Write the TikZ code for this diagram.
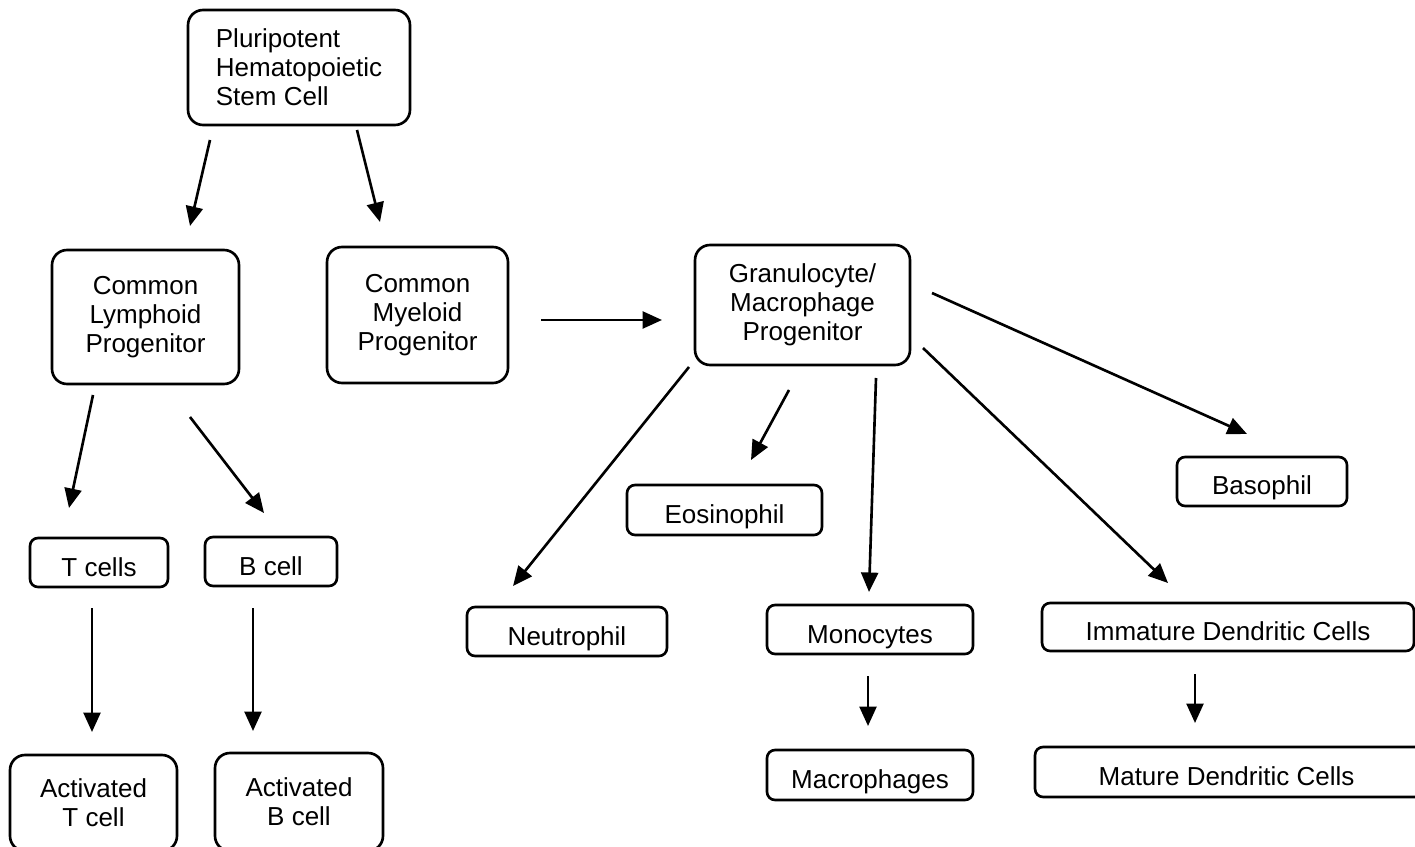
\documentclass[tikz,border=0pt]{standalone}
\usepackage{fontspec}
\setmainfont{Liberation Sans}
\usetikzlibrary{arrows.meta}
\tikzset{
  cell/.style={draw, line width=1.5pt, rounded corners=0.16cm, inner sep=0pt, align=center,
    font=\fontsize{14.8}{16.6}\selectfont},
  onecell/.style={cell, text height=0.58cm, text depth=0.04cm},
  bigcell/.style={cell, rounded corners=0.3cm},
  arr/.style={line width=1.5pt, -{Triangle[length=0.39cm, width=0.34cm]}}
}
\begin{document}
\begin{tikzpicture}[x=0.02cm, y=-0.02cm]
\useasboundingbox (0,0) rectangle (1415,847);
\clip (0,0) rectangle (1415,847);
\fill[white] (0,0) rectangle (1415,847);
% boxes
\node[bigcell, align=left, minimum width=4.44cm, minimum height=2.3cm] (phsc) at (299,67.5) {Pluripotent\\Hematopoietic\\Stem Cell};
\node[bigcell, minimum width=3.74cm, minimum height=2.68cm] (clp) at (145.5,317) {Common\\Lymphoid\\Progenitor};
\node[bigcell, minimum width=3.62cm, minimum height=2.72cm] (cmp) at (417.5,315) {Common\\Myeloid\\Progenitor};
\node[bigcell, minimum width=4.3cm, minimum height=2.4cm] (gmp) at (802.5,305) {Granulocyte/\\Macrophage\\Progenitor};
\node[onecell, minimum width=2.76cm, minimum height=0.98cm] (tc) at (99,562.5) {T cells};
\node[onecell, minimum width=2.64cm, minimum height=0.98cm] (bc) at (271,561.5) {B cell};
\node[bigcell, minimum width=3.34cm, minimum height=1.92cm] (at) at (93.5,803) {Activated\\T cell};
\node[bigcell, minimum width=3.36cm, minimum height=1.96cm] (ab) at (299,802) {Activated\\B cell};
\node[onecell, minimum width=3.9cm, minimum height=1.0cm] (eos) at (724.5,510) {Eosinophil};
\node[onecell, minimum width=4.0cm, minimum height=0.98cm] (neu) at (567,631.5) {Neutrophil};
\node[onecell, minimum width=4.12cm, minimum height=0.98cm] (mono) at (870,629.5) {Monocytes};
\node[onecell, minimum width=4.12cm, minimum height=1.0cm] (mac) at (870,775) {Macrophages};
\node[onecell, minimum width=3.4cm, minimum height=0.98cm] (bas) at (1262,481.5) {Basophil};
\node[onecell, minimum width=7.44cm, minimum height=0.96cm] (idc) at (1228,627) {Immature Dendritic Cells};
\node[onecell, minimum width=8.1cm, minimum height=1.0cm] (mdc) at (1237.5,772) {Mature Dendritic Cells\hspace{0.44cm}};
% connector ends
\coordinate (phsc-l) at (210,140);  \coordinate (clp-in) at (190,226);
\coordinate (phsc-r) at (357,130);  \coordinate (cmp-in) at (380,222);
\coordinate (cmp-out) at (541,320); \coordinate (gmp-in) at (662,320);
\coordinate (clp-l) at (93,395);    \coordinate (tc-in) at (69,508);
\coordinate (clp-r) at (190,417);   \coordinate (bc-in) at (264,513);
\coordinate (tc-out) at (92,608);   \coordinate (at-in) at (92,732);
\coordinate (bc-out) at (253,608);  \coordinate (ab-in) at (253,731);
\coordinate (gmp-neu) at (689,367); \coordinate (neu-in) at (513,586);
\coordinate (gmp-eos) at (789,390); \coordinate (eos-in) at (751,460);
\coordinate (gmp-mono) at (876,378);\coordinate (mono-in) at (869,592);
\coordinate (gmp-idc) at (923,348); \coordinate (idc-in) at (1168,583);
\coordinate (gmp-bas) at (932,293); \coordinate (bas-in) at (1247,434);
\coordinate (mono-out) at (868,676);\coordinate (mac-in) at (868,726);
\coordinate (idc-out) at (1195,674);\coordinate (mdc-in) at (1195,723);
% connectors
\draw[arr] (phsc-l) -- (clp-in);
\draw[arr] (phsc-r) -- (cmp-in);
\draw[arr] (cmp-out) -- (gmp-in);
\draw[arr] (clp-l) -- (tc-in);
\draw[arr] (clp-r) -- (bc-in);
\draw[arr] (tc-out) -- (at-in);
\draw[arr] (bc-out) -- (ab-in);
\draw[arr] (gmp-neu) -- (neu-in);
\draw[arr] (gmp-eos) -- (eos-in);
\draw[arr] (gmp-mono) -- (mono-in);
\draw[arr] (gmp-idc) -- (idc-in);
\draw[arr] (gmp-bas) -- (bas-in);
\draw[arr] (mono-out) -- (mac-in);
\draw[arr] (idc-out) -- (mdc-in);
\end{tikzpicture}
\end{document}
